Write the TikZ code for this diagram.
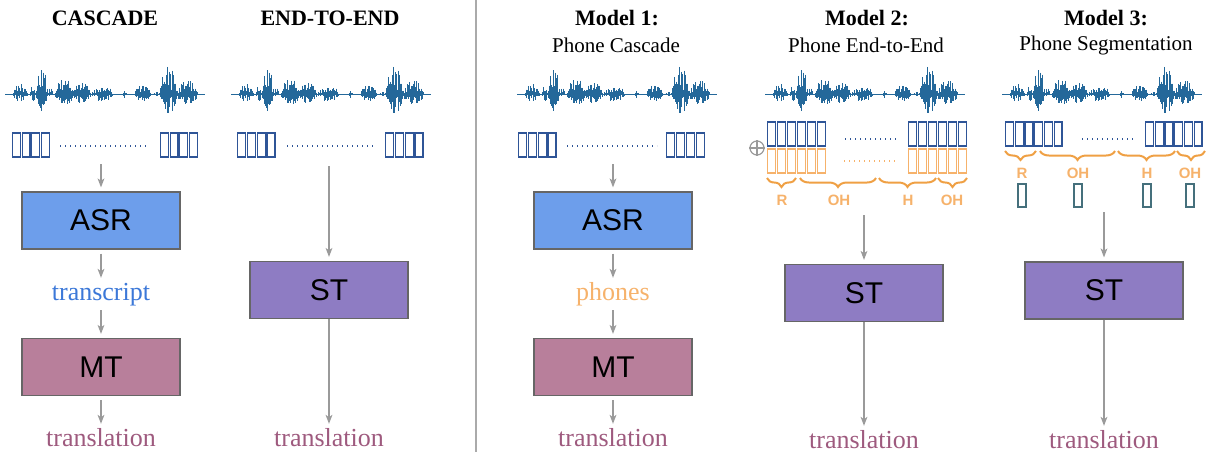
\documentclass[tikz,border=0pt]{standalone}
\usepackage{fontspec}
\setmainfont{Liberation Serif}
\setsansfont{Liberation Sans}
\usepackage{tikz}
\usetikzlibrary{positioning,calc,decorations.pathreplacing,arrows.meta}

\definecolor{wavecol}{HTML}{24689A}
\definecolor{tokblue}{HTML}{2F5597}
\definecolor{tokorange}{HTML}{F6B26B}
\definecolor{braceor}{HTML}{EFA044}
\definecolor{segteal}{HTML}{45707C}
\definecolor{asrblue}{HTML}{6D9EEB}
\definecolor{mtpink}{HTML}{B87F9B}
\definecolor{stpurple}{HTML}{8E7CC3}
\definecolor{boxgray}{HTML}{666666}
\definecolor{arrgray}{HTML}{9A9A9A}
\definecolor{trblue}{HTML}{3C78D8}
\definecolor{outpink}{HTML}{9E5A7E}
\definecolor{sepgray}{HTML}{AAAAAA}

\tikzset{
  arr/.style={draw=arrgray, line width=0.6pt, -{Stealth[length=4.5pt,width=3.4pt,inset=1.2pt]}, shorten <=2pt, shorten >=2pt},
  blk/.style={draw=boxgray, line width=0.6pt, minimum width=79pt, minimum height=28.5pt, inner sep=0pt, font=\sffamily\fontsize{15}{15}\selectfont},
  ttl/.style={font=\bfseries\fontsize{11}{11}\selectfont},
  subttl/.style={font=\fontsize{10.5}{10.5}\selectfont},
  lbl/.style={inner sep=0pt, text height=9pt, text depth=2.8pt, font=\fontsize{13}{13}\selectfont},
  tok/.style={draw=tokblue, line width=0.6pt},
  tokor/.style={draw=tokorange, line width=0.6pt},
  dotline/.style={line width=0.6pt, dash pattern=on 0.6pt off 1.9pt},
  brc/.style={draw=braceor, line width=1pt, decorate, decoration={brace, mirror, amplitude=4.5pt}},
  seglbl/.style={text=tokorange, inner sep=0pt, font=\sffamily\bfseries\fontsize{7.5}{7.5}\selectfont},
  segbox/.style={draw=segteal, line width=0.6pt},
}

% waveform, same seed so all four look alike
\newcommand{\drawwave}[1]{%
  \begin{scope}[shift={(#1,94)}]
    \pgfmathsetseed{4213}
    \draw[wavecol, line width=0.4pt] (0,0) -- (200,0);
    \foreach \sa/\sb/\ampu/\ampd in {8/22/11/8, 25/31/9/7, 31/42/25/18, 43/47/6/4,
        50/68/15/12, 68/85/12/10, 87/107/10/8, 118/121/4/4, 130/145/9/8,
        148/154/2/2, 155/171/29/21, 172/192/15/12}{
      \foreach \x in {\sa,...,\sb}{
        \pgfmathsetmacro{\env}{sin(180*(\x-\sa+0.5)/(\sb-\sa+1))^0.5}
        \pgfmathsetmacro{\hu}{\ampu*\env*(0.15+0.85*rnd)}
        \pgfmathsetmacro{\hd}{\ampd*\env*(0.15+0.85*rnd)}
        \draw[wavecol, line width=0.5pt] (\x,-\hu) -- (\x,\hd);
      }
    }
  \end{scope}}

% row of token boxes: x, y, count, pitch, style
\newcommand{\tokrow}[5]{%
  \foreach \k in {1,...,#3}
    \draw[#5] ({#1+(\k-1)*#4+0.6},#2) rectangle +({#4-1.8},24);}

\begin{document}
\begin{tikzpicture}[x=0.5pt,y=-0.5pt]
    \useasboundingbox (0,0) rectangle (1212,452);

    % Cascade
    \node[ttl] (hA) at (105,18) {CASCADE};
    \drawwave{5}
    \tokrow{12}{133}{4}{9.6}{tok}
    \draw[dotline, tokblue] (60,146) -- (148,146);
    \tokrow{160}{133}{4}{9.6}{tok}
    \coordinate (tkA) at (101,160);
    \node[blk, fill=asrblue] (asrA) at (101,220.5) {ASR};
    \node[lbl, text=trblue] (trA) at (101,294) {transcript};
    \node[blk, fill=mtpink] (mtA) at (101,367) {MT};
    \node[lbl, text=outpink] (outA) at (101,440) {translation};
    \draw[arr] (tkA) -- (asrA);
    \draw[arr] (asrA) -- (trA);
    \draw[arr] (trA) -- (mtA);
    \draw[arr] (mtA) -- (outA);

    % End-to-end
    \node[ttl] (hB) at (330,18) {END-TO-END};
    \drawwave{231}
    \tokrow{237}{133}{4}{9.8}{tok}
    \draw[dotline, tokblue] (287,146) -- (375,146);
    \tokrow{385}{133}{4}{9.8}{tok}
    \coordinate (tkB) at (329,162);
    \node[blk, fill=stpurple] (stB) at (329,290) {ST};
    \node[lbl, text=outpink] (outB) at (329,440) {translation};
    \draw[arr] (tkB) -- (stB);
    \draw[arr, shorten <=0pt] (stB) -- (outB);

    % separator
    \draw[sepgray, line width=0.6pt] (476,0) -- (476,452);

    % Model 1
    \node[ttl] (hC) at (617,18) {Model 1:};
    \node[subttl] (sC) at (616,45) {Phone Cascade};
    \drawwave{517}
    \tokrow{518}{133}{4}{9.8}{tok}
    \draw[dotline, tokblue] (567,146) -- (657,146);
    \tokrow{666}{133}{4}{10}{tok}
    \coordinate (tkC) at (613,160);
    \node[blk, fill=asrblue] (asrC) at (613,220.5) {ASR};
    \node[lbl, text=tokorange] (phC) at (613,294) {phones};
    \node[blk, fill=mtpink] (mtC) at (613,367) {MT};
    \node[lbl, text=outpink] (outC) at (613,440) {translation};
    \draw[arr] (tkC) -- (asrC);
    \draw[arr] (asrC) -- (phC);
    \draw[arr] (phC) -- (mtC);
    \draw[arr] (mtC) -- (outC);

    % Model 2
    \node[ttl] (hD) at (867,18) {Model 2:};
    \node[subttl] (sD) at (866,45) {Phone End-to-End};
    \drawwave{765}
    \tokrow{767}{122}{6}{10}{tok}
    \tokrow{908}{122}{6}{10}{tok}
    \draw[dotline, tokblue] (845,139) -- (897,139);
    \tokrow{767}{149}{6}{10}{tokor}
    \tokrow{908}{149}{6}{10}{tokor}
    \draw[dotline, tokorange] (844,161) -- (896,161);
    \node[circle, draw=arrgray, line width=0.6pt, minimum size=7pt, inner sep=0pt] (plusD) at (757,148) {};
    \draw[arrgray, line width=0.6pt] (plusD.north) -- (plusD.south) (plusD.west) -- (plusD.east);
    \draw[brc] (767,178) -- (796,178);
    \draw[brc] (800,178) -- (876,178);
    \draw[brc] (879,178) -- (936,178);
    \draw[brc] (938,178) -- (967,178);
    \node[seglbl] at (782,200) {R};
    \node[seglbl] at (839,200) {OH};
    \node[seglbl] at (908,200) {H};
    \node[seglbl] at (952,200) {OH};
    \coordinate (tkD) at (864,211);
    \node[blk, fill=stpurple] (stD) at (864,293) {ST};
    \node[lbl, text=outpink] (outD) at (864,442) {translation};
    \draw[arr] (tkD) -- (stD);
    \draw[arr, shorten <=0pt] (stD) -- (outD);

    % Model 3
    \node[ttl] (hE) at (1106,18) {Model 3:};
    \node[subttl] (sE) at (1106,45) {Phone Segmentation};
    \drawwave{1002}
    \tokrow{1005}{122}{6}{9.7}{tok}
    \tokrow{1145}{122}{6}{9.7}{tok}
    \draw[dotline, tokblue] (1082,139) -- (1133,139);
    \draw[brc] (1005,151) -- (1036,151);
    \draw[brc] (1040,151) -- (1115,151);
    \draw[brc] (1118,151) -- (1175,151);
    \draw[brc] (1177,151) -- (1205,151);
    \foreach \c/\t in {1022/R, 1078/OH, 1147/H, 1190/OH}{
      \node[seglbl] at (\c,173) {\t};
      \draw[segbox] (\c-4,184) rectangle (\c+4,207);
    }
    \coordinate (tkE) at (1104,208);
    \node[blk, fill=stpurple] (stE) at (1104,290.5) {ST};
    \node[lbl, text=outpink] (outE) at (1104,442) {translation};
    \draw[arr] (tkE) -- (stE);
    \draw[arr, shorten <=0pt] (stE) -- (outE);
\end{tikzpicture}
\end{document}
